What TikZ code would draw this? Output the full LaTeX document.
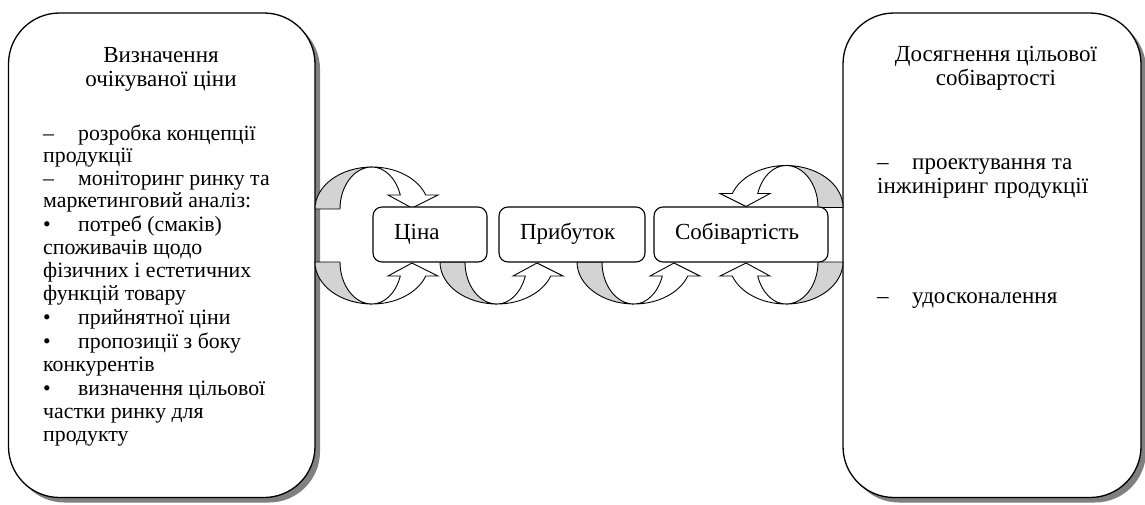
\documentclass[tikz,border=0pt]{standalone}
\usepackage{fontspec}
\setmainfont{Liberation Serif}
\usetikzlibrary{shadows}
\definecolor{shadowgray}{HTML}{808080}
\definecolor{crescgray}{HTML}{D3D3D3}
\newcommand{\tabbed}[1]{\makebox[35pt][l]{#1}}
\newcommand{\crescarrow}[3]{%
  \begin{scope}[shift={#1}, xscale=#2, yscale=#3]
    \path[crescback] (0,0) arc[start angle=180, end angle=90, x radius=57, y radius=42]
       arc[start angle=90, end angle=180, x radius=32, y radius=42] -- cycle;
    \path[crescfront] (57,42) arc[start angle=90, end angle=19.47, x radius=57, y radius=42]
       -- (123,14) -- (97,1) -- (73,14) -- (85.28,14)
       arc[start angle=19.47, end angle=90, x radius=30, y radius=42] -- cycle;
  \end{scope}}
\tikzset{
  bigbox/.style={draw=black, line width=1.3pt, fill=white, rounded corners=51pt, inner sep=0pt,
    drop shadow={shadow xshift=5pt, shadow yshift=-5pt, fill=shadowgray, opacity=1}},
  smallbox/.style={draw=black, line width=1.1pt, fill=white, rounded corners=9pt,
    inner ysep=0pt, inner xsep=21pt, minimum height=55pt, align=left,
    text height=16pt, text depth=5.5pt},
  txt/.style={inner sep=0pt, anchor=base west},
  listtxt/.style={txt, font=\fontsize{21.8pt}{23pt}\selectfont},
  ctxt/.style={inner sep=0pt, anchor=base},
  crescback/.style={draw=black, line width=0.9pt, fill=crescgray, line join=round},
  crescfront/.style={draw=black, line width=0.9pt, fill=white, line join=miter},
}
\begin{document}
\begin{tikzpicture}[x=1pt, y=1pt, font=\fontsize{23pt}{23pt}\selectfont]
\useasboundingbox (0,0) rectangle (1145,-504);
\fill[white] (0,0) rectangle (1145,-504);

% big boxes
\node[bigbox, minimum width=306.5pt, minimum height=484.5pt] (lbox) at (161.75,-255.25) {};
\node[bigbox, minimum width=298pt, minimum height=484.5pt] (rbox) at (992,-255.25) {};

% curved arrows
\crescarrow{(315,-209)}{1}{1}
\crescarrow{(315,-262)}{1}{-1}
\crescarrow{(440,-262)}{1}{-1}
\crescarrow{(577,-262)}{1}{-1}
\crescarrow{(843,-262)}{-1}{-1}
\crescarrow{(843,-207.5)}{-1}{1}

% small boxes
\node[smallbox, text width=72pt] (cina) at (430,-234.5) {Ціна};
\node[smallbox, text width=104pt] (prib) at (572,-234.5) {Прибуток};
\node[smallbox, text width=132pt] (sobiv) at (741,-234.5) {Собівартість};

% left box text
\node[ctxt] (lt1) at (161,-62) {Визначення};
\node[ctxt] (lt2) at (161,-86) {очікуваної ціни};
\foreach \yy/\ltext [count=\i] in {
  140/{\tabbed{–}розробка концепції},
  162/{продукції},
  185/{\tabbed{–}моніторинг ринку та},
  207/{маркетинговий аналіз:},
  231/{\tabbed{•}потреб (смаків)},
  254/{споживачів щодо},
  277/{фізичних і естетичних},
  300/{функцій товару},
  324/{\tabbed{•}прийнятної ціни},
  348/{\tabbed{•}пропозиції з боку},
  371/{конкурентів},
  395/{\tabbed{•}визначення цільової},
  418/{частки ринку для},
  441/{продукту}}
  \node[listtxt] (ll\i) at (43,-\yy) {\ltext};

% right box text
\node[ctxt] (rt1) at (996,-61) {Досягнення цільової};
\node[ctxt] (rt2) at (996,-85) {собівартості};
\node[txt] (rl1) at (877,-169) {\tabbed{–}проектування та};
\node[txt] (rl2) at (877,-193) {інжиніринг продукції};
\node[txt] (rl3) at (877,-303) {\tabbed{–}удосконалення};
\end{tikzpicture}
\end{document}
